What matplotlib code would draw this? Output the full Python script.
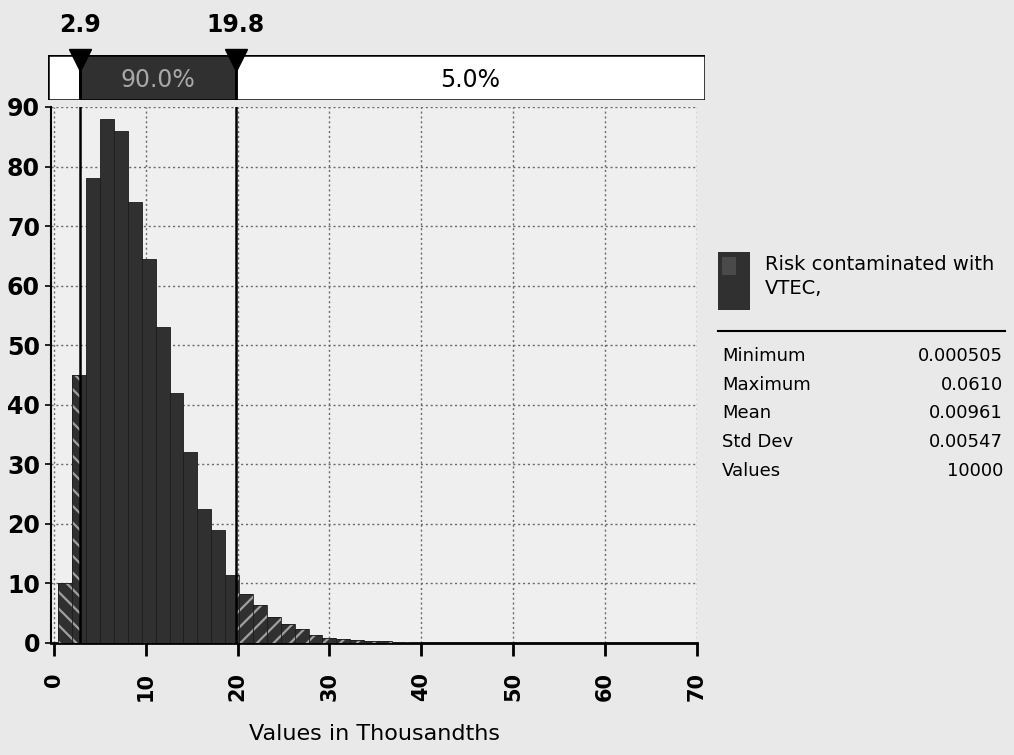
"""
Histogram of simulated VTEC contamination risk with 90% band
"""
import matplotlib

matplotlib.use("Agg")
import matplotlib.pyplot as plt
from matplotlib.patches import Rectangle
import numpy as np

plt.rcParams["font.family"] = ["DejaVu Sans"]
plt.rcParams["hatch.linewidth"] = 1.6

# bins: 40 equal bins between min and max (values in thousandths)
BIN_START = 0.505
BIN_WIDTH = 1.5125
HEIGHTS = [
    10, 45, 78, 88, 86, 74, 64.5, 53, 42, 32, 22.5, 19, 11.5,
    8.3, 6.3, 4.4, 3.2, 2.3, 1.3, 0.9, 0.7, 0.5, 0.4, 0.4, 0.1,
    0.1, 0.05, 0.05, 0.05, 0.05, 0, 0, 0, 0, 0, 0, 0, 0, 0, 0.05,
]
LOWER, UPPER = 2.9, 19.8
BAND_LABELS = ["", "90.0%", "5.0%"]

STAT_NAMES = ["Minimum", "Maximum", "Mean", "Std Dev", "Values"]
STAT_VALUES = ["0.000505", "0.0610", "0.00961", "0.00547", "10000"]
SERIES_NAME = "Risk contaminated with\nVTEC,"

X_TICKS = [0, 10, 20, 30, 40, 50, 60, 70]
Y_TICKS = [0, 10, 20, 30, 40, 50, 60, 70, 80, 90]

DARK = "#303030"
STRIPE = "#a0a0a0"

fig = plt.figure(figsize=(10.14, 7.55), dpi=100, facecolor="#e9e9e9")
W, H = 1014, 755

ax = fig.add_axes([51 / W, 1 - 643 / H, (697 - 51) / W, (643 - 107) / H])
ax.set_facecolor("#efefef")
ax.set_xlim(-0.3, 70)
ax.set_ylim(0, 90)

# split each bin into the parts left of, between and right of the markers
edges = BIN_START + BIN_WIDTH * np.arange(len(HEIGHTS) + 1)
for left, right, h in zip(edges[:-1], edges[1:], HEIGHTS):
    if h <= 0:
        continue
    parts = [
        (left, min(right, LOWER), "\\\\"),
        (max(left, LOWER), min(right, UPPER), None),
        (max(left, UPPER), right, "//"),
    ]
    for a, b, hatch in parts:
        if b <= a:
            continue
        if hatch is None:
            ax.bar(a, h, width=b - a, align="edge", color=DARK,
                   edgecolor="#1c1c1c", linewidth=0.6, zorder=3)
        else:
            ax.bar(a, h, width=b - a, align="edge", color=DARK,
                   edgecolor=STRIPE, linewidth=0, hatch=hatch, zorder=3)
            ax.bar(a, h, width=b - a, align="edge", fill=False,
                   edgecolor="#1c1c1c", linewidth=0.6, zorder=3)

for xv in (LOWER, UPPER):
    ax.axvline(xv, color="black", lw=1.8, zorder=5)

ax.set_xticks(X_TICKS)
ax.set_yticks(Y_TICKS)
ax.grid(True, linestyle=(0, (1.5, 2)), color="#6a6a6a", lw=1.0, zorder=1)
ax.tick_params(axis="x", length=9, width=2, direction="out", pad=12,
               labelsize=15, labelrotation=90)
ax.tick_params(axis="y", length=4, width=1.2, labelsize=17, pad=4)
for lab in ax.get_yticklabels() + ax.get_xticklabels():
    lab.set_fontweight("bold")
for side in ("top", "right"):
    ax.spines[side].set_visible(False)
ax.spines["bottom"].set_linewidth(2)
ax.spines["left"].set_linewidth(1.5)
ax.set_xlabel("Values in Thousandths", fontsize=16, labelpad=16)

# percentage band above the plot
band = fig.add_axes([48 / W, 1 - 100 / H, (705 - 48) / W, 45 / H])
band.set_xlim(-0.62, 70.87)
band.set_ylim(0, 1)
band.axis("off")
lo_band, hi_band = band.get_xlim()
splits = [lo_band, LOWER, UPPER, hi_band]
for i, text in enumerate(BAND_LABELS):
    a, b = splits[i], splits[i + 1]
    dark = i == 1
    band.add_patch(Rectangle((a, 0), b - a, 1, facecolor=DARK if dark else "white",
                             edgecolor="black", lw=1.8))
    if text:
        band.text((a + b) / 2, 0.45, text, ha="center", va="center",
                  fontsize=17, color="#a8a8a8" if dark else "black")
for xv in (LOWER, UPPER):
    band.axvline(xv, color="black", lw=1.8)
    band.plot([xv], [0.9], marker="v", markersize=16, color="black",
              clip_on=False)
    band.text(xv, 1.4, f"{xv:.1f}", ha="center", va="bottom",
              fontsize=17, fontweight="bold")

# legend and statistics panel
fig.patches.append(Rectangle((718 / W, 1 - 310 / H), 32 / W, 58 / H,
                             transform=fig.transFigure, facecolor=DARK,
                             edgecolor="none"))
fig.patches.append(Rectangle((722 / W, 1 - 275 / H), 14 / W, 18 / H,
                             transform=fig.transFigure, facecolor="#4a4a4a",
                             edgecolor="none"))
fig.text(765 / W, 1 - 255 / H, SERIES_NAME, ha="left", va="top",
         fontsize=14, linespacing=1.35)
fig.add_artist(plt.Line2D([718 / W, 1005 / W], [1 - 331 / H, 1 - 331 / H],
                          color="black", lw=1.5, transform=fig.transFigure))
for i, (name, val) in enumerate(zip(STAT_NAMES, STAT_VALUES)):
    y = 1 - (356 + 28.7 * i) / H
    fig.text(722 / W, y, name, ha="left", va="center", fontsize=13)
    fig.text(1003 / W, y, val, ha="right", va="center", fontsize=13)

fig.savefig("out.png", dpi=100, facecolor=fig.get_facecolor())
